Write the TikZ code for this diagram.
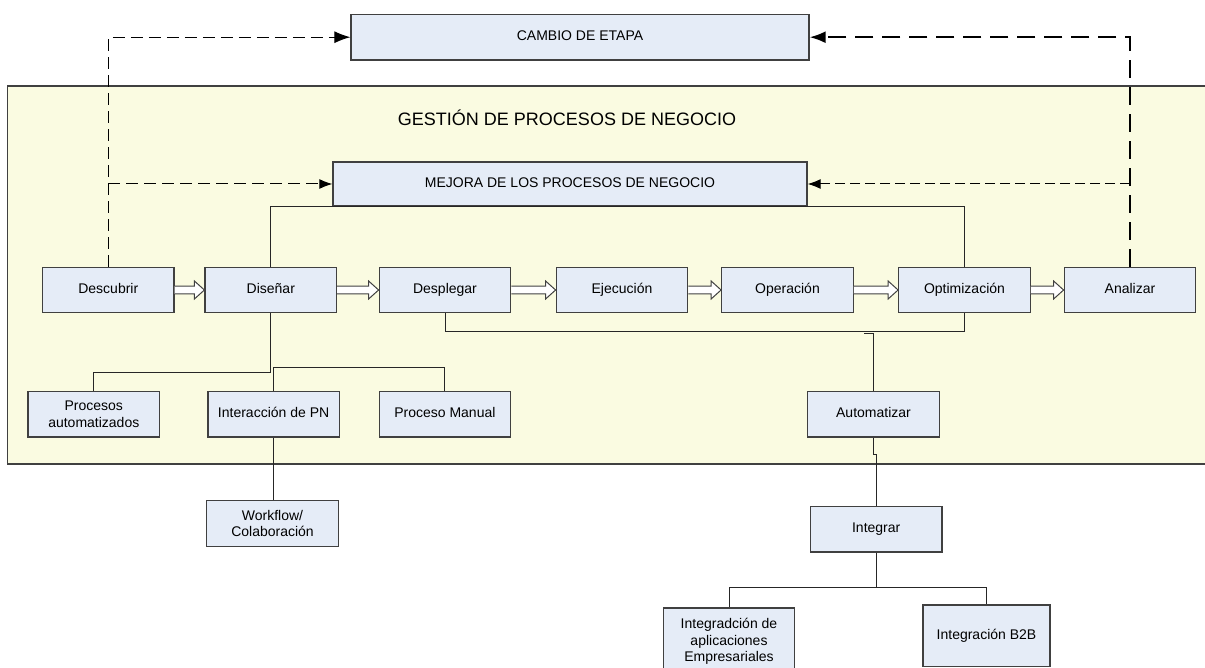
\documentclass[tikz,border=0pt]{standalone}
\usepackage{fontspec}
\setmainfont{Liberation Sans}
\usetikzlibrary{arrows.meta,calc}
\definecolor{fondo}{RGB}{250,251,225}
\definecolor{caja}{RGB}{229,236,247}
\definecolor{borde}{RGB}{64,64,64}
\tikzset{
  bloque/.style={draw=borde, fill=caja, line width=1.3pt, inner sep=0pt,
    minimum width=131.5pt, minimum height=45.5pt, align=center,
    font=\fontsize{14}{16.7}\selectfont},
  una/.style={bloque, text height=10.2pt, text depth=3pt},
  linea/.style={draw=black!85, line width=1pt},
  rayas/.style={line width=1pt, dash pattern=on 12pt off 6pt},
  rayasgruesas/.style={line width=2pt, dash pattern=on 18pt off 9pt},
  rayascortas/.style={line width=1pt, dash pattern=on 10pt off 5pt},
  punta/.style={-{Latex[length=16pt,width=12pt]}},
  puntachica/.style={-{Latex[length=13pt,width=10pt]}}
}
\begin{document}
\begin{tikzpicture}[x=1pt,y=-1pt]
\clip (0,0) rectangle (1205,668);
% zona amarilla
\fill[fondo] (7.7,86) rectangle (1210,464);
\draw[borde,line width=1.3pt] (1210,86) -- (7.7,86) -- (7.7,464) -- (1210,464);
\node[font=\fontsize{18}{20}\selectfont] (gestion) at (567,118) {GESTIÓN DE PROCESOS DE NEGOCIO};

% cajas de arriba
\node[una,minimum width=458pt] (cambio) at (580,37.2) {CAMBIO DE ETAPA};
\node[una,minimum width=474pt,minimum height=44pt] (mejora) at (570,184) {MEJORA DE LOS PROCESOS DE NEGOCIO};

% fila de etapas
\foreach \n/\x/\t in {descubrir/108.3/Descubrir, disenar/270.8/Diseñar,
  desplegar/445/Desplegar, ejecucion/622/Ejecución, operacion/787.5/Operación,
  optimizacion/964.5/Optimización, analizar/1130/Analizar}
  \node[una] (\n) at (\x,290) {\t};

\foreach \a/\b in {descubrir/disenar, disenar/desplegar, desplegar/ejecucion,
  ejecucion/operacion, operacion/optimizacion, optimizacion/analizar}
  \draw[borde,line width=1pt,fill=white] ($(\a.east)+(0,-3.8)$) -- ($(\b.west)+(-10,-3.8)$)
    -- ($(\b.west)+(-10,-9)$) -- (\b.west) -- ($(\b.west)+(-10,9)$)
    -- ($(\b.west)+(-10,3.8)$) -- ($(\a.east)+(0,3.8)$);

% cajas de abajo
\node[bloque] (procesos) at (93.8,414.2) {Procesos\\automatizados};
\node[una] (interaccion) at (273.6,414.2) {Interacción de PN};
\node[una] (manual) at (444.9,414.2) {Proceso Manual};
\node[bloque] (workflow) at (272.5,523.5) {Workflow/\\Colaboración};
\node[una] (automatizar) at (873.5,414.2) {Automatizar};
\node[una] (integrar) at (876.2,529.3) {Integrar};
\node[bloque,minimum height=67pt] (empresa) at (729,641.5) {Integradción de\\aplicaciones\\Empresariales};
\node[una,minimum width=127pt,minimum height=61.7pt] (b2b) at (986.5,635.8) {Integración B2B};

% lazos punteados
\coordinate (izq) at (descubrir.north |- mejora.west);
\coordinate (der) at (analizar.north |- mejora.east);
\draw[rayas,punta] (descubrir.north) -- (izq) |- (cambio.west);
\draw[rayas,puntachica] (izq) -- (mejora.west);
\draw[rayasgruesas,punta] (analizar.north) -- (der) |- (cambio.east);
\draw[rayascortas,puntachica] (der) -- (mejora.east);

% conectores
\draw[linea] (disenar.north) |- (mejora.south) -| (optimizacion.north);
\draw[linea] (desplegar.south) -- ++(0,18) -| (optimizacion.south);
\coordinate (gancho) at (864,333.5);
\draw[linea] (gancho) -| (automatizar.north);
\draw[linea] (disenar.south) -- ++(0,59) -| (procesos.north);
\draw[linea] (interaccion.north) -- ++(0,-23) -| (manual.north);
\draw[linea] (interaccion.south) -- (interaccion.south |- workflow.north);
\draw[linea] (automatizar.south) -- ++(0,17) -| (integrar.north);
\draw[linea] (integrar.south) -- ++(0,35) -| (empresa.north);
\draw[linea] (integrar.south) -- ++(0,35) -| (b2b.north);
\end{tikzpicture}
\end{document}
